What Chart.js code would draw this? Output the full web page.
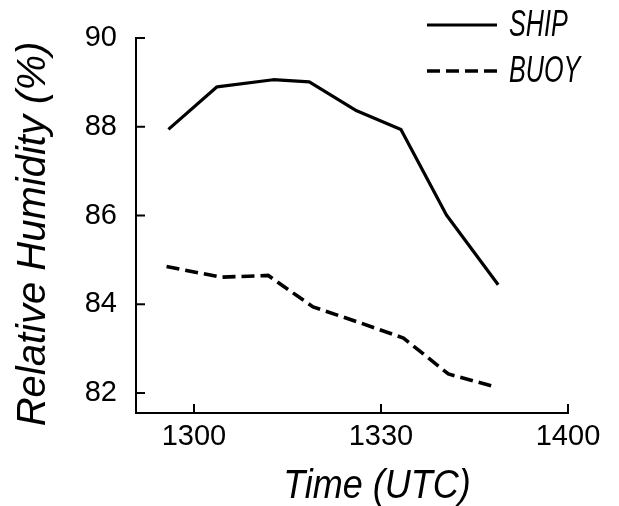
<!DOCTYPE html>
<html lang="en">
<head>
    <meta charset="UTF-8">
    <title>Relative Humidity</title>
    <script src="https://cdn.jsdelivr.net/npm/chart.js"></script>
    <style>
        body {
            margin: 0;
            padding: 0;
            background-color: #ffffff;
        }
        #chart-box {
            width: 619px;
            height: 506px;
        }
    </style>
</head>
<body>
    <div id="chart-box">
        <canvas id="rhChart"></canvas>
    </div>
    <script>
        // times are minutes after 1300 UTC
        const shipTimes = [-4.1, 3.7, 12.7, 18.5, 26.1, 33.2, 40.5, 48.8];
        const shipRH = [87.94, 88.90, 89.06, 89.01, 88.36, 87.94, 86.01, 84.44];
        const buoyTimes = [-4.4, 4.4, 11.9, 19.1, 26.3, 33.6, 40.8, 48.6];
        const buoyRH = [84.85, 84.61, 84.65, 83.94, 83.60, 83.24, 82.43, 82.13];

        const xTickValues = [0, 30, 60];
        const xTickLabels = ['1300', '1330', '1400'];
        const yTickValues = [82, 84, 86, 88, 90];

        const seriesNames = ['SHIP', 'BUOY'];

        function toPoints(xs, ys) {
            return xs.map((x, i) => ({ x: x, y: ys[i] }));
        }

        // inward tick marks, axis titles and the legend
        const decorations = {
            id: 'decorations',
            afterDraw(chart) {
                const ctx = chart.ctx;
                const xs = chart.scales.x;
                const ys = chart.scales.y;
                const area = chart.chartArea;
                ctx.save();
                ctx.strokeStyle = '#000';
                ctx.lineWidth = 2;
                yTickValues.forEach(v => {
                    const py = ys.getPixelForValue(v);
                    ctx.beginPath();
                    ctx.moveTo(area.left, py);
                    ctx.lineTo(area.left + 9, py);
                    ctx.stroke();
                });
                xTickValues.forEach(v => {
                    const px = xs.getPixelForValue(v);
                    ctx.beginPath();
                    ctx.moveTo(px, area.bottom);
                    ctx.lineTo(px, area.bottom - 9);
                    ctx.stroke();
                });

                ctx.fillStyle = '#000';
                ctx.textAlign = 'center';
                ctx.textBaseline = 'middle';

                // x title
                ctx.save();
                ctx.translate(377, 487);
                ctx.scale(0.9, 1);
                ctx.font = 'italic 40px "Liberation Sans"';
                ctx.fillText('Time (UTC)', 0, 0);
                ctx.restore();

                // y title
                ctx.save();
                ctx.translate(34, 234);
                ctx.rotate(-Math.PI / 2);
                ctx.scale(1.0, 1);
                ctx.font = 'italic 40px "Liberation Sans"';
                ctx.fillText('Relative Humidity (%)', 0, 0);
                ctx.restore();

                // legend
                const rows = [25, 71];
                chart.data.datasets.forEach((ds, i) => {
                    ctx.save();
                    ctx.lineWidth = ds.borderWidth;
                    ctx.setLineDash(ds.borderDash || []);
                    ctx.beginPath();
                    ctx.moveTo(427, rows[i]);
                    ctx.lineTo(497, rows[i]);
                    ctx.stroke();
                    ctx.restore();

                    ctx.save();
                    ctx.translate(509, rows[i] + 1);
                    ctx.scale(0.7, 1);
                    ctx.textAlign = 'left';
                    ctx.font = 'italic 36px "Liberation Sans"';
                    ctx.fillText(ds.label, 0, 0);
                    ctx.restore();
                });
                ctx.restore();
            }
        };

        const ctx = document.getElementById('rhChart').getContext('2d');
        new Chart(ctx, {
            type: 'line',
            data: {
                datasets: [
                    {
                        label: seriesNames[0],
                        data: toPoints(shipTimes, shipRH),
                        borderColor: '#000',
                        borderWidth: 3.2,
                        borderJoinStyle: 'round',
                        pointRadius: 0,
                        tension: 0,
                        fill: false,
                    },
                    {
                        label: seriesNames[1],
                        data: toPoints(buoyTimes, buoyRH),
                        borderColor: '#000',
                        borderWidth: 3.6,
                        borderDash: [13, 6],
                        pointRadius: 0,
                        tension: 0,
                        fill: false,
                    },
                ],
            },
            options: {
                responsive: true,
                maintainAspectRatio: false,
                animation: false,
                events: [],
                layout: {
                    padding: { top: 38, right: 51, left: 0, bottom: 0 },
                },
                plugins: {
                    legend: { display: false },
                    tooltip: { enabled: false },
                },
                scales: {
                    x: {
                        type: 'linear',
                        min: -9.3,
                        max: 60,
                        grid: { display: false, drawTicks: false },
                        border: { display: true, color: '#000', width: 2 },
                        afterBuildTicks: scale => {
                            scale.ticks = xTickValues.map(v => ({ value: v }));
                        },
                        afterFit: scale => { scale.height = 93; },
                        ticks: {
                            color: '#000',
                            padding: 7,
                            maxRotation: 0,
                            font: { family: 'Liberation Sans', size: 29 },
                            callback: v => xTickLabels[xTickValues.indexOf(v)],
                        },
                    },
                    y: {
                        min: 81.55,
                        max: 90,
                        grid: { display: false, drawTicks: false },
                        border: { display: true, color: '#000', width: 2 },
                        afterBuildTicks: scale => {
                            scale.ticks = yTickValues.map(v => ({ value: v }));
                        },
                        afterFit: scale => { scale.width = 136; },
                        ticks: {
                            color: '#000',
                            padding: 19,
                            font: { family: 'Liberation Sans', size: 29 },
                        },
                    },
                },
            },
            plugins: [decorations],
        });
    </script>
</body>
</html>
